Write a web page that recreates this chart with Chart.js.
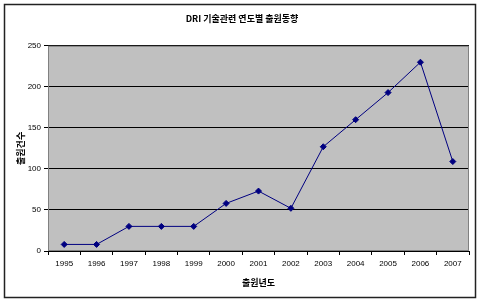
<!DOCTYPE html>
<html><head><meta charset="utf-8">
<script src="https://cdn.jsdelivr.net/npm/chart.js@4.4.0/dist/chart.umd.min.js"></script>
<style>html,body{margin:0;padding:0;background:#fff}#wrap{width:480px;height:302px}</style>
</head><body><div id="wrap"><canvas id="c" width="480" height="302"></canvas></div>
<script>
const years = ['1995','1996','1997','1998','1999','2000','2001','2002','2003','2004','2005','2006','2007'];
const counts = [8, 8, 30, 30, 30, 58, 73, 52, 127, 160, 193, 230, 109];
const yTicks = [0, 50, 100, 150, 200, 250];
const titleText = 'DRI 기술관련 연도별 출원동향';
const xTitle = '출원년도';
const yTitle = '출원건수';

const frame = {
  id: 'frame',
  beforeDraw(chart) {
    const {ctx, chartArea: a} = chart;
    ctx.save();
    ctx.fillStyle = '#c0c0c0';
    ctx.fillRect(a.left, a.top, a.right - a.left, a.bottom - a.top);
    ctx.restore();
  },
  afterDraw(chart) {
    const {ctx, chartArea: a} = chart;
    ctx.save();
    ctx.strokeStyle = '#808080';
    ctx.lineWidth = 1;
    ctx.strokeRect(a.left + 0.5, a.top + 0.5, a.right - a.left - 1, a.bottom - a.top - 1);
    ctx.strokeStyle = '#222';
    ctx.lineWidth = 1.5;
    ctx.strokeRect(4.5, 4.5, 471, 293);
    ctx.restore();
  }
};

const font = {family: 'Liberation Sans, Arial, sans-serif', size: 8};
const kfont = {family: 'Noto Sans CJK KR, sans-serif', size: 9, weight: 'bold'};

new Chart(document.getElementById('c'), {
  type: 'line',
  data: {
    labels: years,
    datasets: [{
      data: counts,
      borderColor: '#000080',
      backgroundColor: '#000080',
      borderWidth: 1,
      pointStyle: 'rectRot',
      pointRadius: 3,
      pointBorderWidth: 1,
      tension: 0
    }]
  },
  options: {
    responsive: false,
    animation: false,
    layout: {padding: {left: 15, right: 11, top: 0, bottom: 14}},
    plugins: {
      legend: {display: false},
      tooltip: {enabled: false},
      title: {
        display: true, text: titleText, color: '#000', font: kfont,
        padding: {top: 13, bottom: 22}
      }
    },
    scales: {
      x: {
        offset: true,
        grid: {offset: true, drawOnChartArea: false, color: '#000', tickLength: 4},
        border: {color: '#000', width: 1},
        ticks: {color: '#000', font: font, maxRotation: 0, autoSkip: false, padding: 4},
        title: {display: true, text: xTitle, color: '#000', font: kfont, padding: {top: 2, bottom: 0}},
        afterFit(s) { s.height = 37; }
      },
      y: {
        min: 0, max: 250,
        afterBuildTicks(s) { s.ticks = yTicks.map(v => ({value: v})); },
        grid: {color: '#000', lineWidth: 1, tickLength: 4},
        border: {color: '#000', width: 1},
        ticks: {color: '#000', font: font, padding: 3},
        title: {display: true, text: yTitle, color: '#000', font: kfont, padding: {top: 0, bottom: 4}},
        afterFit(s) { s.width = 33; }
      }
    }
  },
  plugins: [frame]
});
</script>
</body></html>
